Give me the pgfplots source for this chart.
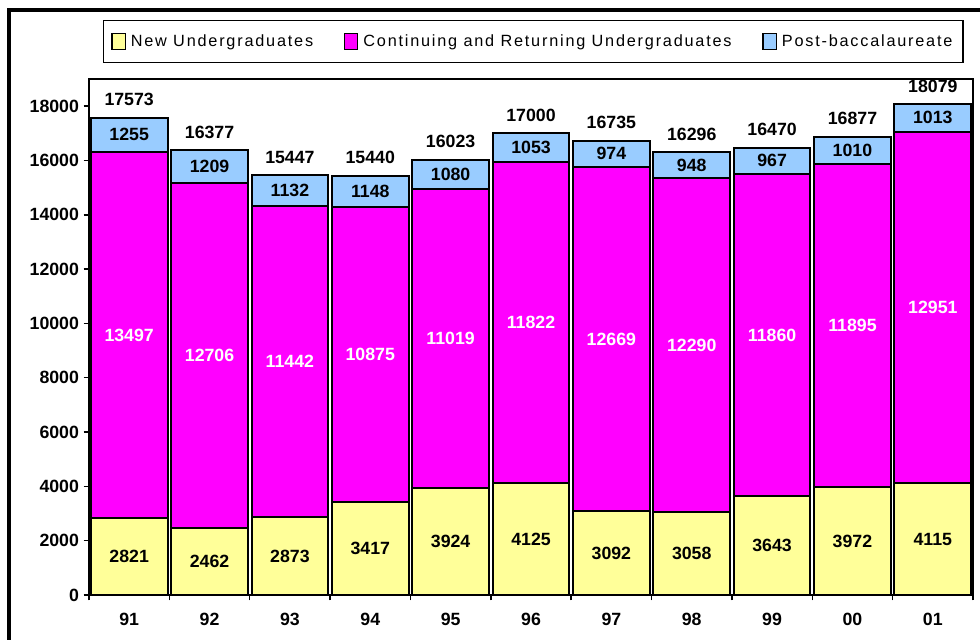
\documentclass[border=0pt]{standalone}
\usepackage{fontspec}
\setmainfont{Liberation Sans}
\newfontfamily\legfont[LetterSpace=11]{Liberation Sans}
\usepackage{pgfplots}
\usepackage{pgfplotstable}
\pgfplotsset{compat=1.18}
\definecolor{cnew}{HTML}{FFFF99}
\definecolor{ccont}{HTML}{FF00FF}
\definecolor{cpost}{HTML}{99CCFF}
\pgfplotstableread{
x new cont post total
0 2821 13497 1255 17573
1 2462 12706 1209 16377
2 2873 11442 1132 15447
3 3417 10875 1148 15440
4 3924 11019 1080 16023
5 4125 11822 1053 17000
6 3092 12669 974 16735
7 3058 12290 948 16296
8 3643 11860 967 16470
9 3972 11895 1010 16877
10 4115 12951 1013 18079
}\datatable
\newcommand{\lblfont}{\fontsize{13.3}{16}\selectfont\bfseries}
\pgfplotsset{sqlegend/.style={legend image code/.code={\draw[##1,line width=0.9pt] (0pt,-5.75pt) rectangle (10pt,5.75pt);}}}
\begin{document}
\begin{tikzpicture}
\useasboundingbox (0,0) rectangle (735pt,479.25pt);
\clip (0,0) rectangle (735pt,479.25pt);
\fill[white] (0,0) rectangle (735pt,479.25pt);
\draw[line width=3pt] (7.1pt,-20pt) -- (7.1pt,472.1pt) -- (760pt,472.1pt);
\begin{axis}[
  at={(66.75pt,33pt)}, anchor=south west,
  scale only axis, width=663pt, height=387pt,
  ybar stacked, bar width=0.955,
  xmin=-0.5, xmax=10.5, ymin=0, ymax=19000,
  clip=false, scaled y ticks=false,
  axis line style={line width=1.1pt},
  xtick={-0.5,0.5,...,10.5},
  xticklabels={91,92,93,94,95,96,97,98,99,00,01,{}},
  xticklabel style={xshift=30.14pt, yshift=-6pt},
  ytick={0,2000,...,18000},
  ytick pos=left, xtick pos=bottom,
  tick align=outside, major tick length=4pt,
  tick style={line width=1.1pt, black},
  tick label style={font=\lblfont},
  /pgf/number format/assume math mode=true,
  yticklabel style={/pgf/number format/fixed, /pgf/number format/set thousands separator={}},
  legend columns=3,
  legend style={at={(0.5025,1.0727)}, anchor=center, draw=black, line width=1.1pt,
    font=\legfont\fontsize{12.2}{14}\selectfont, inner xsep=6pt, inner ysep=8.5pt,
    /tikz/every even column/.append style={column sep=21pt},
    /tikz/every odd column/.append style={column sep=1.75pt}},
  after end axis/.code={
    \draw[line width=2pt] (rel axis cs:0,1) -- (rel axis cs:0,0) -- (rel axis cs:1,0) -- (rel axis cs:1,1);
  },
]
\addplot+[fill=cnew, draw=black, line width=1.5pt, sqlegend,
  point meta=explicit symbolic, nodes near coords,
  every node near coord/.style={font=\lblfont, anchor=center, text=black}]
  table[x=x, y=new, meta=new]{\datatable};
\addlegendentry{New Undergraduates}
\addplot+[fill=ccont, draw=black, line width=1.5pt, sqlegend,
  point meta=explicit symbolic, nodes near coords,
  every node near coord/.style={font=\lblfont, anchor=center, text=white}]
  table[x=x, y=cont, meta=cont]{\datatable};
\addlegendentry{Continuing and Returning Undergraduates}
\addplot+[fill=cpost, draw=black, line width=1.5pt, sqlegend,
  point meta=explicit symbolic, nodes near coords,
  every node near coord/.style={font=\lblfont, anchor=center, text=black}]
  table[x=x, y=post, meta=post]{\datatable};
\addlegendentry{Post-baccalaureate}
\end{axis}
\begin{axis}[
  at={(66.75pt,33pt)}, anchor=south west,
  scale only axis, width=663pt, height=387pt,
  xmin=-0.5, xmax=10.5, ymin=0, ymax=19000,
  clip=false, hide axis,
]
\addplot[only marks, mark=text, text mark={},
  point meta=explicit symbolic, nodes near coords,
  every node near coord/.style={font=\lblfont, anchor=base, text=black, inner sep=0pt, yshift=9pt}]
  table[x=x, y=total, meta=total]{\datatable};
\end{axis}
\end{tikzpicture}
\end{document}
